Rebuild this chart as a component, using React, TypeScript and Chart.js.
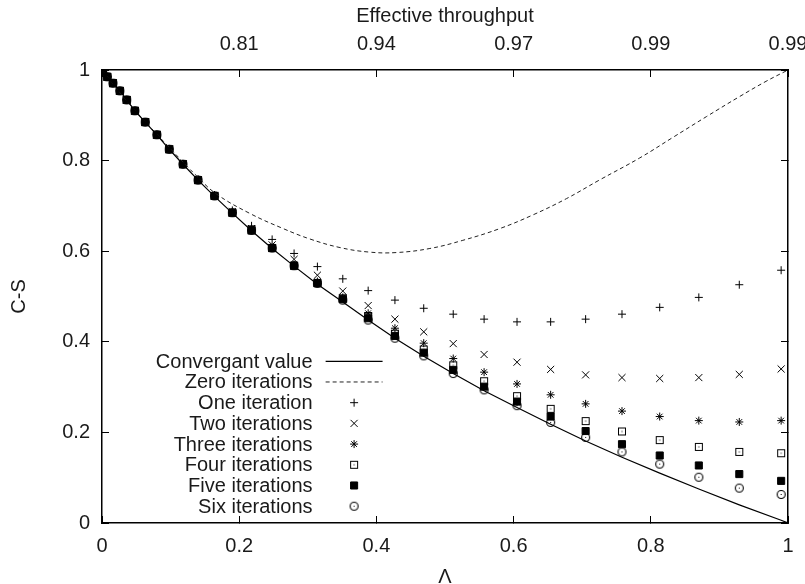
import React, { useEffect, useRef } from 'react';
import { Chart, registerables } from 'chart.js';
import { drawPoint } from 'chart.js/helpers';

Chart.register(...registerables);

// ---- data ----
const lambdaGrid = [
  0.001, 0.0077, 0.016, 0.026, 0.036, 0.048, 0.063, 0.080, 0.098, 0.118, 0.140,
  0.164, 0.190, 0.218, 0.248, 0.280, 0.314, 0.351, 0.388, 0.427, 0.469, 0.512,
  0.557, 0.605, 0.654, 0.705, 0.758, 0.813, 0.870, 0.929, 0.990,
];

const oneIteration = [
  0.998, 0.985, 0.971, 0.954, 0.934, 0.910, 0.885, 0.857, 0.826, 0.793, 0.759,
  0.724, 0.690, 0.656, 0.626, 0.595, 0.566, 0.539, 0.513, 0.492, 0.474, 0.461,
  0.450, 0.444, 0.444, 0.450, 0.461, 0.476, 0.498, 0.526, 0.558,
];
const twoIterations = [
  0.998, 0.985, 0.971, 0.954, 0.934, 0.910, 0.885, 0.857, 0.825, 0.792, 0.758,
  0.723, 0.687, 0.650, 0.614, 0.582, 0.547, 0.512, 0.480, 0.450, 0.422, 0.396,
  0.372, 0.355, 0.339, 0.327, 0.321, 0.319, 0.321, 0.328, 0.340,
];
const threeIterations = [
  0.998, 0.985, 0.971, 0.954, 0.934, 0.910, 0.885, 0.857, 0.825, 0.792, 0.757,
  0.722, 0.685, 0.647, 0.608, 0.570, 0.533, 0.498, 0.463, 0.430, 0.397, 0.363,
  0.333, 0.307, 0.283, 0.263, 0.247, 0.235, 0.226, 0.223, 0.226,
];
const fourIterations = [
  0.998, 0.985, 0.971, 0.954, 0.934, 0.910, 0.885, 0.857, 0.825, 0.792, 0.757,
  0.722, 0.685, 0.646, 0.607, 0.568, 0.530, 0.496, 0.457, 0.418, 0.383, 0.348,
  0.313, 0.280, 0.252, 0.225, 0.202, 0.183, 0.168, 0.157, 0.154,
];
const fiveIterations = [
  0.998, 0.985, 0.971, 0.954, 0.934, 0.910, 0.885, 0.857, 0.825, 0.792, 0.757,
  0.722, 0.685, 0.646, 0.607, 0.568, 0.529, 0.494, 0.452, 0.413, 0.376, 0.338,
  0.301, 0.268, 0.235, 0.203, 0.174, 0.149, 0.127, 0.108, 0.093,
];
const sixIterations = [
  0.998, 0.985, 0.971, 0.954, 0.934, 0.910, 0.885, 0.857, 0.825, 0.792, 0.757,
  0.722, 0.685, 0.646, 0.607, 0.568, 0.529, 0.492, 0.448, 0.408, 0.369, 0.330,
  0.294, 0.259, 0.222, 0.189, 0.157, 0.130, 0.101, 0.077, 0.063,
];

const convergentLambda = [
  0, 0.0077, 0.016, 0.026, 0.036, 0.048, 0.063, 0.080, 0.098, 0.118, 0.140,
  0.164, 0.190, 0.218, 0.248, 0.280, 0.314, 0.351, 0.388, 0.427, 0.469, 0.512,
  0.557, 0.605, 0.654, 0.705, 0.758, 0.813, 0.870, 0.929, 0.990, 1.0,
];
const convergentValue = [
  1.0, 0.985, 0.971, 0.954, 0.934, 0.910, 0.885, 0.857, 0.825, 0.792, 0.757,
  0.721, 0.684, 0.645, 0.606, 0.567, 0.527, 0.488, 0.448, 0.408, 0.368, 0.330,
  0.292, 0.255, 0.218, 0.181, 0.145, 0.110, 0.075, 0.040, 0.006, 0.0,
];

const zeroLambda = [
  0, 0.048, 0.098, 0.140, 0.167, 0.216, 0.264, 0.303, 0.347, 0.390, 0.429,
  0.478, 0.526, 0.580, 0.628, 0.677, 0.725, 0.784, 0.832, 0.881, 0.929, 0.968, 1.0,
];
const zeroValue = [
  1.0, 0.911, 0.829, 0.763, 0.726, 0.683, 0.650, 0.627, 0.608, 0.598, 0.597,
  0.606, 0.624, 0.650, 0.680, 0.716, 0.757, 0.806, 0.851, 0.897, 0.941, 0.975, 1.0,
];

const seriesLabels = [
  'Convergant value', 'Zero iterations', 'One iteration', 'Two iterations',
  'Three iterations', 'Four iterations', 'Five iterations', 'Six iterations',
];

const xTicks = [0, 0.2, 0.4, 0.6, 0.8, 1];
const xTickLabels = ['0', '0.2', '0.4', '0.6', '0.8', '1'];
const topTickLabels = ['', '0.81', '0.94', '0.97', '0.99', '0.99'];
const yTicks = [0, 0.2, 0.4, 0.6, 0.8, 1];
const yTickLabels = ['0', '0.2', '0.4', '0.6', '0.8', '1'];

// ---- styling ----
const FONT_FAMILY = '"Liberation Sans", Arial, Helvetica, sans-serif';
const FONT_SIZE = 20;
const TEXT = '#1a1a1a';

function pts(xs: number[], ys: number[]) {
  return xs.map((x, i) => ({ x, y: ys[i] }));
}

function makeSquareDot(): HTMLCanvasElement {
  const c = document.createElement('canvas');
  c.width = 10; c.height = 10;
  const g = c.getContext('2d')!;
  g.strokeStyle = '#000';
  g.lineWidth = 1;
  g.strokeRect(1.5, 1.5, 7, 7);
  g.fillStyle = '#000';
  g.fillRect(4.5, 4.5, 1, 1);
  return c;
}
function makeCircleDot(): HTMLCanvasElement {
  const c = document.createElement('canvas');
  c.width = 11; c.height = 11;
  const g = c.getContext('2d')!;
  g.beginPath();
  g.arc(5.5, 5.5, 4, 0, Math.PI * 2);
  g.strokeStyle = '#000';
  g.lineWidth = 1.1;
  g.stroke();
  g.fillStyle = '#000';
  g.fillRect(5, 5, 1, 1);
  return c;
}

const legendPlugin = {
  id: 'gnuLegend',
  afterDatasetsDraw(chart: any) {
    const { ctx, chartArea } = chart;
    const w = chartArea.right - chartArea.left;
    const h = chartArea.bottom - chartArea.top;
    const textRight = chartArea.left + 0.307 * w;
    const sampleL = chartArea.left + 0.326 * w;
    const sampleR = chartArea.left + 0.409 * w;
    const sampleC = (sampleL + sampleR) / 2;
    const top = chartArea.top + 0.643 * h;
    const row = 0.0457 * h;
    ctx.save();
    ctx.font = `${FONT_SIZE}px ${FONT_FAMILY}`;
    ctx.textAlign = 'right';
    ctx.textBaseline = 'middle';
    chart.data.datasets.forEach((ds: any, i: number) => {
      const y = top + i * row;
      ctx.fillStyle = TEXT;
      ctx.fillText(ds.label, textRight, y + 1);
      if (ds.showLine) {
        ctx.save();
        ctx.strokeStyle = ds.borderColor;
        ctx.lineWidth = ds.borderWidth;
        ctx.setLineDash(ds.borderDash || []);
        ctx.beginPath();
        ctx.moveTo(sampleL, y);
        ctx.lineTo(sampleR, y);
        ctx.stroke();
        ctx.restore();
      } else {
        ctx.save();
        ctx.strokeStyle = ds.borderColor;
        ctx.fillStyle = ds.backgroundColor;
        ctx.lineWidth = ds.pointBorderWidth;
        drawPoint(ctx, { pointStyle: ds.pointStyle, radius: ds.pointRadius, rotation: 0, borderWidth: ds.pointBorderWidth }, sampleC, y);
        ctx.restore();
      }
    });
    ctx.restore();
  },
};

export default function App() {
  const ref = useRef<HTMLCanvasElement | null>(null);

  useEffect(() => {
    document.body.style.margin = '0';
    if (!ref.current) return;
    const font = { family: FONT_FAMILY, size: FONT_SIZE };
    const squareDot = makeSquareDot();
    const circleDot = makeCircleDot();

    const markerBase = { showLine: false, borderColor: '#000', backgroundColor: 'rgba(0,0,0,0)', pointBorderWidth: 1 };

    const chart = new Chart(ref.current, {
      type: 'scatter',
      data: {
        datasets: [
          { label: seriesLabels[0], data: pts(convergentLambda, convergentValue), showLine: true, borderColor: '#000', backgroundColor: '#000', borderWidth: 1.2, pointRadius: 0, tension: 0 },
          { label: seriesLabels[1], data: pts(zeroLambda, zeroValue), showLine: true, borderColor: '#222', backgroundColor: '#222', borderWidth: 1, borderDash: [4, 3], pointRadius: 0, tension: 0.4 },
          { ...markerBase, label: seriesLabels[2], data: pts(lambdaGrid, oneIteration), pointStyle: 'cross', pointRadius: 4 },
          { ...markerBase, label: seriesLabels[3], data: pts(lambdaGrid, twoIterations), pointStyle: 'crossRot', pointRadius: 5 },
          { ...markerBase, label: seriesLabels[4], data: pts(lambdaGrid, threeIterations), pointStyle: 'star', pointRadius: 4 },
          { ...markerBase, label: seriesLabels[5], data: pts(lambdaGrid, fourIterations), pointStyle: squareDot, pointRadius: 4 },
          { ...markerBase, label: seriesLabels[6], data: pts(lambdaGrid, fiveIterations), pointStyle: 'rect', pointRadius: 5, backgroundColor: '#000' },
          { ...markerBase, label: seriesLabels[7], data: pts(lambdaGrid, sixIterations), pointStyle: circleDot, pointRadius: 4 },
        ] as any,
      },
      options: {
        animation: false,
        responsive: false,
        events: [],
        layout: { padding: 0 },
        plugins: { legend: { display: false }, tooltip: { enabled: false } },
        scales: {
          x: {
            type: 'linear', position: 'bottom', min: 0, max: 1,
            afterBuildTicks: (s: any) => { s.ticks = xTicks.map((v) => ({ value: v })); },
            afterFit: (s: any) => { s.height = 61; s.paddingLeft = 0; s.paddingRight = 0; },
            ticks: { font, color: TEXT, padding: 18, maxRotation: 0, autoSkip: false, callback: (_v: any, i: number) => xTickLabels[i] },
            grid: { drawOnChartArea: false, tickLength: -7, color: '#000', lineWidth: 1 },
            border: { color: '#000', width: 1.5 },
            title: { display: true, text: 'Λ', font, color: TEXT, padding: { top: 0, bottom: -5 } },
          },
          x2: {
            type: 'linear', position: 'top', min: 0, max: 1,
            afterBuildTicks: (s: any) => { s.ticks = xTicks.map((v) => ({ value: v })); },
            afterFit: (s: any) => { s.height = 70; s.paddingLeft = 0; s.paddingRight = 0; },
            ticks: { font, color: TEXT, padding: 21, maxRotation: 0, autoSkip: false, callback: (_v: any, i: number) => topTickLabels[i] },
            grid: { drawOnChartArea: false, tickLength: -7, color: '#000', lineWidth: 1 },
            border: { color: '#000', width: 1.5 },
            title: { display: true, text: 'Effective throughput', font, color: TEXT, padding: { top: 4, bottom: 0 } },
          },
          y: {
            type: 'linear', position: 'left', min: 0, max: 1,
            afterBuildTicks: (s: any) => { s.ticks = yTicks.map((v) => ({ value: v })); },
            afterFit: (s: any) => { s.width = 102; s.paddingTop = 0; s.paddingBottom = 0; },
            ticks: { font, color: TEXT, padding: 19, autoSkip: false, callback: (_v: any, i: number) => yTickLabels[i] },
            grid: { drawOnChartArea: false, tickLength: -7, color: '#000', lineWidth: 1 },
            border: { color: '#000', width: 1.5 },
            title: { display: true, text: 'C-S', font, color: TEXT, padding: { top: 7, bottom: 0 } },
          },
          y2: {
            type: 'linear', position: 'right', min: 0, max: 1,
            afterBuildTicks: (s: any) => { s.ticks = yTicks.map((v) => ({ value: v })); },
            afterFit: (s: any) => { s.width = 17; s.paddingTop = 0; s.paddingBottom = 0; },
            ticks: { font, color: TEXT, padding: 0, callback: () => '' },
            grid: { drawOnChartArea: false, tickLength: -7, color: '#000', lineWidth: 1 },
            border: { color: '#000', width: 1.5 },
          },
        },
      } as any,
      plugins: [legendPlugin],
    });
    return () => chart.destroy();
  }, []);

  return (
    <div style={{ width: 805, height: 584, background: '#fff' }}>
      <canvas ref={ref} width={805} height={584} style={{ display: 'block' }} />
    </div>
  );
}
